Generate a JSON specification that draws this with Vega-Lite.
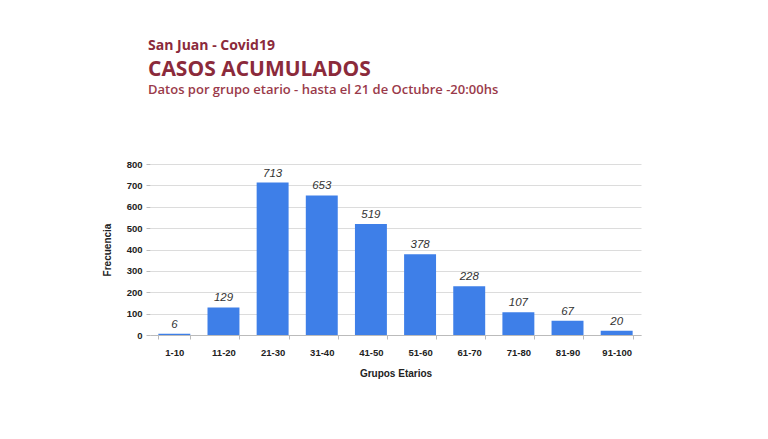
{
  "$schema": "https://vega.github.io/schema/vega-lite/v6.json",
  "background": "white",
  "padding": {"left": 102, "top": 39, "right": 10, "bottom": 10},
  "title": {"text": "San Juan - Covid19", "anchor": "start", "frame": "group", "dx": -2, "font": "Open Sans", "fontSize": 14, "fontWeight": "bold", "color": "#8b2a3b", "offset": 6},
  "data": {"values": [
    {"grupo": "1-10", "casos": 6},
    {"grupo": "11-20", "casos": 129},
    {"grupo": "21-30", "casos": 713},
    {"grupo": "31-40", "casos": 653},
    {"grupo": "41-50", "casos": 519},
    {"grupo": "51-60", "casos": 378},
    {"grupo": "61-70", "casos": 228},
    {"grupo": "71-80", "casos": 107},
    {"grupo": "81-90", "casos": 67},
    {"grupo": "91-100", "casos": 20}
  ]},
  "vconcat": [
    {
      "width": 491,
      "height": 171,
      "title": {"text": "CASOS ACUMULADOS", "subtitle": "Datos por grupo etario - hasta el 21 de Octubre -20:00hs", "anchor": "start", "frame": "group", "dx": -2, "font": "Open Sans", "fontSize": 21, "fontWeight": "bold", "color": "#8b2a3b", "subtitleFont": "Open Sans", "subtitleFontSize": 13, "subtitleFontWeight": 600, "subtitleColor": "#9a3a4a", "subtitlePadding": 4, "offset": 62},
      "encoding": {
        "x": {"field": "grupo", "type": "nominal", "sort": null,
          "scale": {"paddingInner": 0.35, "paddingOuter": 0.17},
          "axis": {"title": "Grupos Etarios", "labelAngle": 0, "labelFont": "Liberation Sans", "labelFontSize": 9.5, "labelFontWeight": "bold", "labelColor": "#222", "labelPadding": 8, "titleFont": "Liberation Sans", "titleFontSize": 10, "titleFontWeight": "bold", "titleColor": "#222", "titlePadding": 12, "tickBand": "extent", "tickColor": "#bbb", "tickSize": 4, "domainColor": "#bbb"}},
        "y": {"field": "casos", "type": "quantitative", "scale": {"domain": [0, 800]},
          "axis": {"title": "Frecuencia", "values": [0, 100, 200, 300, 400, 500, 600, 700, 800], "labelOverlap": false, "labelFont": "Liberation Sans", "labelFontSize": 9.5, "labelFontWeight": "bold", "labelColor": "#222", "labelPadding": 4, "titleFont": "Liberation Sans", "titleFontSize": 10, "titleFontWeight": "bold", "titleColor": "#222", "titlePadding": 14, "gridColor": "#dcdcdc", "tickColor": "#bbb", "tickSize": 4, "domain": false}}
      },
      "layer": [
        {"mark": {"type": "bar", "color": "#3e7fe8"}},
        {
          "mark": {"type": "text", "baseline": "alphabetic", "dy": -6, "font": "Liberation Sans", "fontSize": 11.5, "fontStyle": "italic", "color": "#333"},
          "encoding": {"text": {"field": "casos", "type": "quantitative"}}
        }
      ]
    }
  ],
  "config": {"view": {"stroke": null}}
}
